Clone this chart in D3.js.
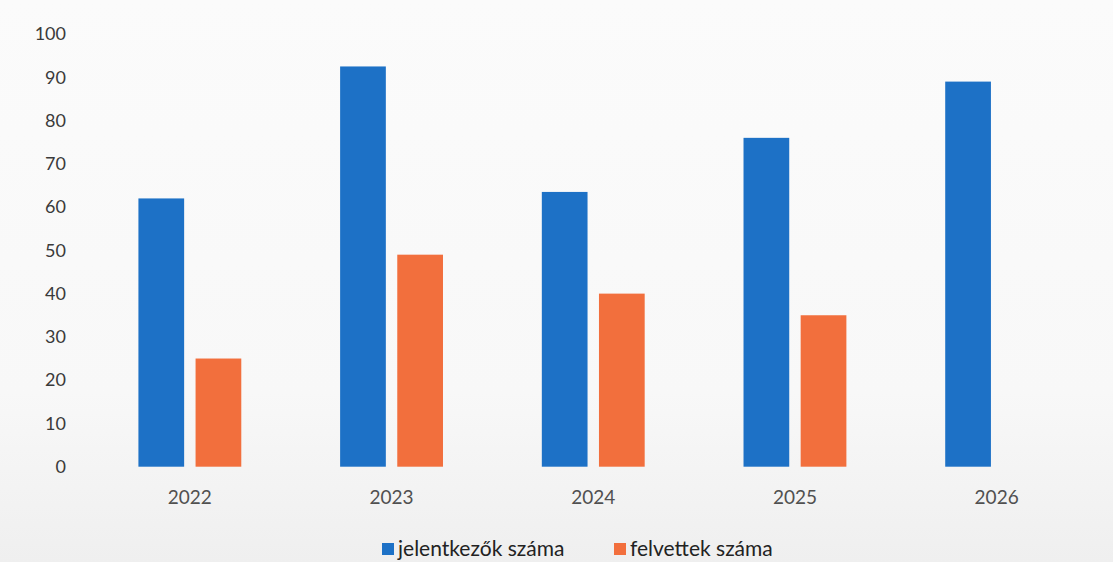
<!DOCTYPE html>
<html>
<head>
<meta charset="utf-8">
<script src="https://cdn.jsdelivr.net/npm/d3@7"></script>
<style>
  html, body { margin: 0; padding: 0; }
  body { width: 1113px; height: 562px; overflow: hidden; }
  svg { display: block; font-family: Lato, "Open Sans", sans-serif; }
</style>
</head>
<body>
<svg id="chart" width="1113" height="562"></svg>
<script>
const years = ['2022', '2023', '2024', '2025', '2026'];
const seriesNames = ['jelentkezők száma', 'felvettek száma'];
const applicants = [62, 92.5, 63.5, 76, 89];
const admitted = [25, 49, 40, 35, null];
const yTicks = [0, 10, 20, 30, 40, 50, 60, 70, 80, 90, 100];
const colors = ['#1d71c6', '#f26f3d'];

const svg = d3.select('#chart');
const width = 1113;
const height = 562;

// scanned-paper look: light background, a bit greyer at the bottom
const defs = svg.append('defs');
const grad = defs.append('linearGradient')
  .attr('id', 'bg')
  .attr('x1', 0).attr('y1', 0).attr('x2', 0).attr('y2', 1);
grad.append('stop').attr('offset', '0%').attr('stop-color', '#fbfbfb');
grad.append('stop').attr('offset', '70%').attr('stop-color', '#f8f8f8');
grad.append('stop').attr('offset', '100%').attr('stop-color', '#efefef');
svg.append('rect')
  .attr('width', width)
  .attr('height', height)
  .attr('fill', 'url(#bg)');

const data = years.map((y, i) => ({
  year: y,
  values: [applicants[i], admitted[i]]
}));

const x0 = d3.scaleBand()
  .domain(years)
  .range([89, 1097.5])
  .paddingInner(0.49)
  .paddingOuter(0.245);

const x1 = d3.scaleBand()
  .domain([0, 1])
  .range([0, x0.bandwidth()])
  .paddingInner(0.2);

const y = d3.scaleLinear()
  .domain([0, 100])
  .range([466.7, 34]);

const groups = svg.append('g')
  .selectAll('g')
  .data(data)
  .join('g')
    .attr('transform', d => `translate(${x0(d.year)},0)`);

groups.selectAll('rect')
  .data(d => d.values.map((v, k) => ({ k, v })).filter(e => e.v != null))
  .join('rect')
    .attr('x', e => x1(e.k))
    .attr('y', e => y(e.v))
    .attr('width', x1.bandwidth())
    .attr('height', e => y(0) - y(e.v))
    .attr('fill', e => colors[e.k]);

const yAxis = g => g
  .attr('transform', 'translate(66,0)')
  .call(d3.axisLeft(y).tickValues(yTicks).tickSize(0).tickPadding(0))
  .call(g => g.select('.domain').remove())
  .call(g => g.selectAll('text')
    .attr('fill', '#3a3a3a')
    .style('font-size', '18px')
    .style('font-family', 'Lato, "Open Sans", sans-serif'));

const xAxis = g => g
  .attr('transform', `translate(0,${y(0)})`)
  .call(d3.axisBottom(x0).tickSize(0).tickPadding(24))
  .call(g => g.select('.domain').remove())
  .call(g => g.selectAll('text')
    .attr('fill', '#505050')
    .style('font-size', '19px')
    .style('font-family', 'Lato, "Open Sans", sans-serif'));

svg.append('g').call(yAxis);
svg.append('g').call(xAxis);

// legend
const legendX = [382, 614];
const legend = svg.append('g')
  .selectAll('g')
  .data(seriesNames)
  .join('g')
    .attr('transform', (d, i) => `translate(${legendX[i]},543)`);

legend.append('rect')
  .attr('width', 12)
  .attr('height', 12)
  .attr('fill', (d, i) => colors[i]);

legend.append('text')
  .attr('x', 16)
  .attr('y', 6)
  .attr('dy', '0.35em')
  .attr('fill', '#222')
  .style('font-size', '21px')
  .text(d => d);
</script>
</body>
</html>
